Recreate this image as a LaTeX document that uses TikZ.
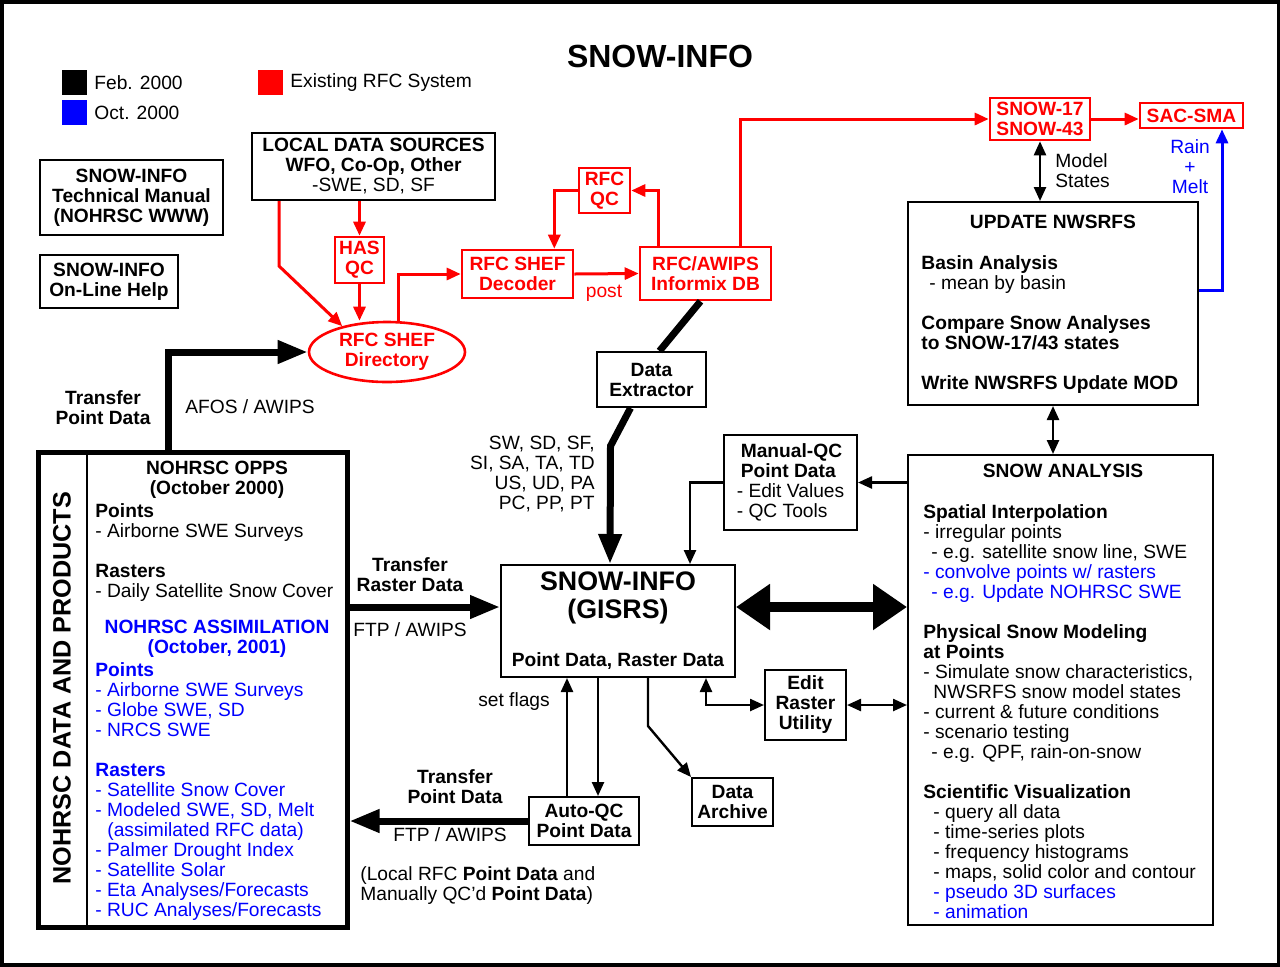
\documentclass[tikz,border=0pt]{standalone}
\usepackage{fontspec}
\setmainfont{Liberation Sans}
\usetikzlibrary{arrows.meta,calc,shapes.geometric}
\tikzset{
  txt/.style={font=\fontsize{9.6}{10}\selectfont, inner sep=0pt},
  btxt/.style={txt, font=\fontsize{9.6}{10}\selectfont\bfseries},
  box/.style={draw, line width=1pt, fill=white, align=center, btxt},
  rbox/.style={box, draw=red, text=red, line width=1.3pt},
  arr/.style={line width=1.2pt, -{Triangle[length=7pt,width=6pt]}},
  darr/.style={line width=1.2pt, {Triangle[length=7pt,width=6pt]}-{Triangle[length=7pt,width=6pt]}},
  rarr/.style={arr, red, line width=1.5pt},
  barr/.style={arr, blue, line width=1.5pt},
  fat/.style={line width=3.5pt, -{Triangle[length=15pt,width=11pt]}},
}
\begin{document}
\begin{tikzpicture}[x=0.5pt, y=-0.5pt]
  \useasboundingbox (0,0) rectangle (1280,966);
  \draw[line width=2pt] (1.5,1.5) rectangle (1278.5,964.5);

  % title and legend
  \node[btxt, font=\fontsize{16}{17}\selectfont\bfseries] (title) at (660,56) {SNOW-INFO};
  \fill (62,70) rectangle (87,95);
  \fill[blue] (62,100) rectangle (87,125);
  \fill[red] (258,70) rectangle (283,95);
  \node[txt, anchor=west] (lfeb) at (94,83) {Feb. 2000};
  \node[txt, anchor=west] (loct) at (94,113) {Oct. 2000};
  \node[txt, anchor=west] (lrfc) at (290,83) {Existing RFC System};

  % boxes
  \node[box, minimum width=91.5pt, minimum height=37.5pt] (manual) at (131.5,197.5) {SNOW-INFO\\Technical Manual\\(NOHRSC WWW)};
  \node[box, minimum width=69pt, minimum height=26.5pt] (help) at (109,281.5) {SNOW-INFO\\On-Line Help};
  \node[box, minimum width=121.5pt, minimum height=33.5pt] (local) at (373.5,166.5) {LOCAL DATA SOURCES\\WFO, Co-Op, Other\\\mdseries -SWE, SD, SF};
  \node[rbox, minimum width=24.5pt, minimum height=23pt] (hasqc) at (359.5,260) {HAS\\QC};
  \node[rbox, ellipse, minimum width=78pt, minimum height=30pt, inner sep=0pt] (shefdir) at (387,352) {RFC SHEF\\Directory};
  \node[rbox, minimum width=55.5pt, minimum height=24pt] (decoder) at (517.5,274) {RFC SHEF\\Decoder};
  \node[rbox, minimum width=25.5pt, minimum height=22.5pt] (rfcqc) at (604.5,190.5) {RFC\\QC};
  \node[rbox, minimum width=65.5pt, minimum height=26.5pt] (informix) at (705.5,273.5) {RFC/AWIPS\\Informix DB};
  \node[rbox, minimum width=50pt, minimum height=21pt] (snow17) at (1040,119) {SNOW-17\\SNOW-43};
  \node[rbox, minimum width=51.5pt, minimum height=12.5pt] (sacsma) at (1191.5,115.5) {SAC-SMA};
  \node[box, minimum width=145pt, minimum height=101.5pt] (update) at (1053,303.5) {};
  \node[box, minimum width=152.5pt, minimum height=235pt] (analysis) at (1060.5,690) {};
  \node[box, align=left, minimum width=66.5pt, minimum height=47.5pt] (manqc) at (790.5,482.5) {\hspace*{2pt}Manual-QC\\\hspace*{2pt}Point Data\\\mdseries - Edit Values\\\mdseries - QC Tools};
  \node[box, minimum width=117pt, minimum height=56pt] (gisrs) at (618,621) {};
  \node[box, minimum width=54.5pt, minimum height=27.5pt] (extractor) at (651.5,379.5) {Data\\Extractor};
  \node[box, minimum width=40.5pt, minimum height=35pt] (editr) at (805.5,705) {Edit\\Raster\\Utility};
  \node[box, minimum width=40.5pt, minimum height=24pt] (archive) at (732.5,802) {Data\\Archive};
  \node[box, minimum width=55pt, minimum height=24pt] (autoqc) at (584,821) {Auto-QC\\Point Data};
  \node[draw, line width=2.5pt, minimum width=154.5pt, minimum height=237.5pt, inner sep=0pt] (nohrsc) at (192.5,689.5) {};
  \draw[line width=1pt] (87,452) -- (87,927);

  % box texts
  \node[btxt, font=\fontsize{13.4}{14}\selectfont\bfseries, align=center] (gisrst) at (618,598) {SNOW-INFO\\(GISRS)};
  \node[btxt] (gisrsb) at (618,661) {Point Data, Raster Data};
  \node[btxt, font=\fontsize{12.6}{13}\selectfont\bfseries, rotate=90] (nohrsct) at (62,688) {NOHRSC DATA AND PRODUCTS};
  \node[btxt] (updt) at (1053,222) {UPDATE NWSRFS};
  \node[txt, align=left, anchor=north west] (updb) at (921,255) {\textbf{Basin Analysis}\\\hspace*{4pt}- mean by basin\\[10pt]\textbf{Compare Snow Analyses}\\\textbf{to SNOW-17/43 states}\\[10pt]\textbf{Write NWSRFS Update MOD}};
  \node[btxt] (anat) at (1063,471) {SNOW ANALYSIS};
  \node[txt, align=left, anchor=north west] (anab) at (923,504) {\textbf{Spatial Interpolation}\\- irregular points\\\hspace*{4pt}- e.g. satellite snow line, SWE\\\textcolor{blue}{- convolve points w/ rasters}\\\textcolor{blue}{\hspace*{4pt}- e.g. Update NOHRSC SWE}\\[10pt]\textbf{Physical Snow Modeling}\\\textbf{at Points}\\- Simulate snow characteristics,\\\hspace*{5pt}NWSRFS snow model states\\- current \& future conditions\\- scenario testing\\\hspace*{4pt}- e.g. QPF, rain-on-snow\\[10pt]\textbf{Scientific Visualization}\\\hspace*{5pt}- query all data\\\hspace*{5pt}- time-series plots\\\hspace*{5pt}- frequency histograms\\\hspace*{5pt}- maps, solid color and contour\\\textcolor{blue}{\hspace*{5pt}- pseudo 3D surfaces}\\\textcolor{blue}{\hspace*{5pt}- animation}};
  \node[btxt, align=center] (oppst) at (217,480) {NOHRSC OPPS\\(October 2000)};
  \node[txt, align=left, anchor=north west] (oppsb) at (95,503) {\textbf{Points}\\- Airborne SWE Surveys\\[10pt]\textbf{Rasters}\\- Daily Satellite Snow Cover};
  \node[btxt, align=center, text=blue] (assimt) at (217,639) {NOHRSC ASSIMILATION\\(October, 2001)};
  \node[txt, align=left, anchor=north west, text=blue] (assimb) at (95,662) {\textbf{Points}\\- Airborne SWE Surveys\\- Globe SWE, SD\\- NRCS SWE\\[10pt]\textbf{Rasters}\\- Satellite Snow Cover\\- Modeled SWE, SD, Melt\\\hspace*{6pt}(assimilated RFC data)\\- Palmer Drought Index\\- Satellite Solar\\- Eta Analyses/Forecasts\\- RUC Analyses/Forecasts};

  % labels
  \node[txt, text=red] (post) at (604,293) {post};
  \node[txt, align=left, anchor=west] (model) at (1055,171) {Model\\States};
  \node[txt, align=center, text=blue] (rain) at (1190,167) {Rain\\+\\Melt};
  \node[txt, align=right, anchor=north east] (vars) at (595,436) {SW, SD, SF,\\SI, SA, TA, TD\\US, UD, PA\\PC, PP, PT};
  \node[btxt, align=center] (tpd1) at (103,408) {Transfer\\Point Data};
  \node[txt] (afos) at (250,407) {AFOS / AWIPS};
  \node[btxt, align=center] (trd) at (410,575) {Transfer\\Raster Data};
  \node[txt] (ftp1) at (410,630) {FTP / AWIPS};
  \node[txt] (flags) at (514,702) {set flags};
  \node[btxt, align=center] (tpd2) at (455,787) {Transfer\\Point Data};
  \node[txt] (ftp2) at (450,835) {FTP / AWIPS};
  \node[txt, align=left, anchor=north west] (localrfc) at (360,866) {(Local RFC \textbf{Point Data} and\\Manually QC'd \textbf{Point Data})};

  % red rfc flow
  \draw[rarr] (hasqc.north |- local.south) -- (hasqc.north);
  \draw[rarr] (hasqc.south) -- (shefdir.north -| hasqc.south);
  \draw[rarr] ($(local.south west)+(28,0)$) -- ++(0,65) -- (shefdir.150);
  \draw[rarr] (shefdir.70) |- (decoder.west);
  \draw[rarr] (decoder.east) -- (informix.west);
  \draw[rarr] ($(informix.north west)+(20,0)$) |- (rfcqc.east);
  \draw[rarr] (rfcqc.west) -| ($(decoder.north east)+(-20,0)$);
  \draw[rarr] ($(informix.north)+(34.5,0)$) |- (snow17.west);
  \draw[rarr] (snow17.east) -- (snow17.east -| sacsma.west);
  \draw[barr] ($(update.east)+(0,-13.5)$) -| ($(sacsma.south)+(30.5,0)$);
  \draw[darr] (snow17.south) -- (snow17.south |- update.north);
  \draw[darr] (update.south) -- (update.south |- analysis.north);

  % data flow
  \draw[line width=3.5pt] ($(informix.south)+(-5,0)$) -- ($(extractor.north)+(8,0)$);
  \draw[fat] ($(extractor.south)+(-21,0)$) -- ++(-20,38) -- ($(gisrs.north)+(-8,0)$);
  \coordinate (big) at ($(gisrs.east)+(0,-14)$);
  \draw[line width=5pt, {Triangle[length=17pt,width=22pt]}-{Triangle[length=17pt,width=22pt]}] (big) -- (big -| analysis.west);
  \draw[arr] (manqc.east -| analysis.west) -- (manqc.east);
  \draw[arr] (manqc.west) -| ($(gisrs.north)+(72,0)$);
  \draw[darr] ($(gisrs.south)+(88,0)$) |- (editr.west);
  \draw[darr] (editr.east) -- (editr.east -| analysis.west);
  \draw[arr] ($(gisrs.south)+(30,0)$) -- ++(0,48) -- (archive.north west);
  \draw[arr] ($(autoqc.north)+(-17,0)$) -- ($(gisrs.south)+(-51,0)$);
  \draw[arr] ($(gisrs.south)+(-20,0)$) -- ($(autoqc.north)+(14,0)$);
  \draw[fat] (autoqc.west) -- (autoqc.west -| nohrsc.east);
  \coordinate (ras) at ($(gisrs.west)+(0,-14)$);
  \draw[fat] (ras -| nohrsc.east) -- (ras);
  \draw[fat] ($(nohrsc.north)+(-24.5,0)$) |- (shefdir.west);
\end{tikzpicture}
\end{document}
